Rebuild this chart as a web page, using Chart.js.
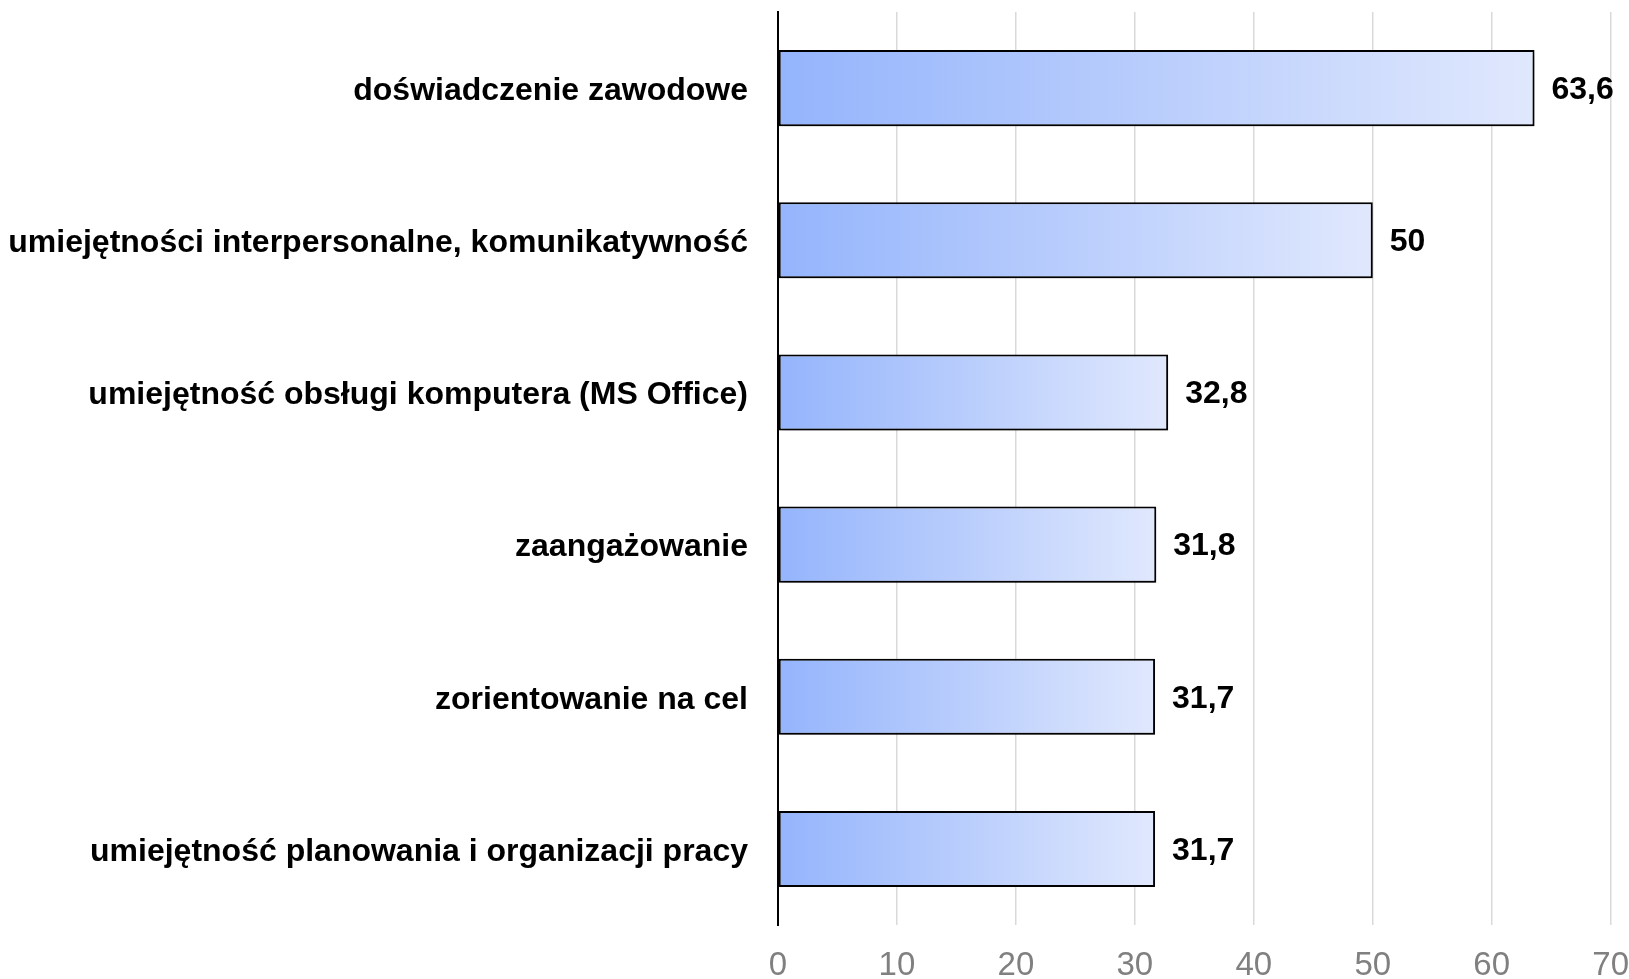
<!DOCTYPE html>
<html>
<head>
<meta charset="utf-8">
<script src="https://cdn.jsdelivr.net/npm/chart.js@4/dist/chart.umd.min.js"></script>
<style>
  html, body { margin: 0; padding: 0; background: #fff; }
  #wrap { width: 1629px; height: 979px; }
</style>
</head>
<body>
<div id="wrap"><canvas id="skills"></canvas></div>
<script>
const categories = [
    "doświadczenie zawodowe",
    "umiejętności interpersonalne, komunikatywność",
    "umiejętność obsługi komputera (MS Office)",
    "zaangażowanie",
    "zorientowanie na cel",
    "umiejętność planowania i organizacji pracy"
];
const values = [63.6, 50, 32.8, 31.8, 31.7, 31.7];
const xTicks = [0, 10, 20, 30, 40, 50, 60, 70];

// gradient across each bar, from left edge to its end
function barFill(ctx) {
    const chart = ctx.chart;
    const area = chart.chartArea;
    if (!area) return "rgb(150, 182, 252)";
    const x = chart.scales.x;
    const x0 = x.getPixelForValue(0);
    const x1 = x.getPixelForValue(values[ctx.dataIndex]);
    const g = chart.ctx.createLinearGradient(x0, 0, x1, 0);
    g.addColorStop(0, "rgb(148, 180, 252)");
    g.addColorStop(1, "rgb(224, 232, 253)");
    return g;
}

const barShadow = {
    id: "barShadow",
    beforeDatasetDraw(chart) {
        const c = chart.ctx;
        c.save();
        c.shadowColor = "rgba(0, 0, 0, 0.35)";
        c.shadowBlur = 6;
        c.shadowOffsetX = 2;
        c.shadowOffsetY = 3;
    },
    afterDatasetDraw(chart) {
        chart.ctx.restore();
    }
};

const valueLabels = {
    id: "valueLabels",
    afterDatasetsDraw(chart) {
        const c = chart.ctx;
        const meta = chart.getDatasetMeta(0);
        c.save();
        c.font = "bold 32px 'Liberation Sans', Arial, sans-serif";
        c.fillStyle = "#000";
        c.textAlign = "left";
        c.textBaseline = "middle";
        meta.data.forEach((bar, i) => {
            const txt = String(values[i]).replace(".", ",");
            c.fillText(txt, bar.x + 17, bar.y + 2);
        });
        c.restore();
    }
};

const chart = new Chart(document.getElementById("skills"), {
    type: "bar",
    data: {
        labels: categories,
        datasets: [
            {
                data: values,
                backgroundColor: barFill,
                borderColor: "#000",
                borderWidth: 2,
                borderSkipped: false,
                barPercentage: 0.5,
                categoryPercentage: 1.0,
            },
        ],
    },
    options: {
        indexAxis: "y",
        responsive: true,
        maintainAspectRatio: false,
        animation: false,
        layout: { padding: { top: 12, left: 0, right: 0, bottom: 0 } },
        plugins: {
            legend: { display: false },
            tooltip: { enabled: false },
        },
        scales: {
            x: {
                min: xTicks[0],
                max: xTicks[xTicks.length - 1],
                afterBuildTicks: (s) => { s.ticks = xTicks.map(v => ({ value: v })); },
                afterFit: (s) => { s.height = 54; },
                grid: { color: "#d9d9d9", lineWidth: 1.5, drawTicks: true, tickLength: 24, tickColor: "rgba(0,0,0,0)" },
                border: { display: false },
                ticks: {
                    padding: 0,
                    color: "#808080",
                    font: { family: "'Liberation Sans', Arial, sans-serif", size: 33, lineHeight: 1.0 },
                },
            },
            y: {
                afterFit: (s) => { s.width = 778; },
                grid: { display: false, drawTicks: true, tickLength: 30 },
                border: { display: true, color: "#000", width: 2 },
                ticks: {
                    padding: 0,
                    labelOffset: 3,
                    color: "#000",
                    font: { family: "'Liberation Sans', Arial, sans-serif", size: 32, weight: "bold", lineHeight: 0.75 },
                },
            },
        },
    },
    plugins: [barShadow, valueLabels],
});
</script>
</body>
</html>
